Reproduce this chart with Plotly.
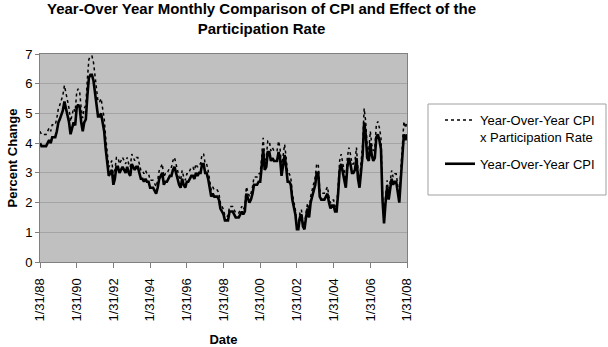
import pandas as pd
import plotly.graph_objects as go

start_date = "1988-01-31"
n_months = 241

cpi = [
    4.0, 3.9, 3.9, 3.9, 3.9, 4.0, 4.1, 4.0, 4.2, 4.2, 4.2, 4.4,
    4.7, 4.8, 5.0, 5.1, 5.4, 5.2, 5.0, 4.7, 4.3, 4.5, 4.7, 4.6,
    5.2, 5.3, 5.2, 4.7, 4.4, 4.7, 4.8, 5.6, 6.2, 6.3, 6.3, 6.1,
    5.7, 5.3, 4.9, 4.9, 5.0, 4.7, 4.4, 3.8, 3.4, 2.9, 3.0, 3.1,
    2.6, 2.8, 3.2, 3.2, 3.0, 3.1, 3.2, 3.1, 3.0, 3.2, 3.0, 2.9,
    3.3, 3.2, 3.1, 3.2, 3.2, 3.0, 2.8, 2.8, 2.7, 2.8, 2.7, 2.7,
    2.5, 2.5, 2.5, 2.4, 2.3, 2.5, 2.8, 2.9, 3.0, 2.6, 2.7, 2.7,
    2.8, 2.9, 2.9, 3.1, 3.2, 3.0, 2.8, 2.6, 2.5, 2.8, 2.6, 2.5,
    2.7, 2.7, 2.8, 2.9, 2.9, 2.8, 3.0, 2.9, 3.0, 3.0, 3.3, 3.3,
    3.0, 3.0, 2.8, 2.5, 2.2, 2.3, 2.2, 2.2, 2.2, 2.1, 1.8, 1.7,
    1.6, 1.4, 1.4, 1.4, 1.7, 1.7, 1.7, 1.6, 1.5, 1.5, 1.5, 1.6,
    1.7, 1.6, 1.7, 2.3, 2.1, 2.0, 2.1, 2.3, 2.6, 2.6, 2.6, 2.7,
    2.7, 3.2, 3.8, 3.1, 3.2, 3.7, 3.7, 3.4, 3.5, 3.4, 3.4, 3.4,
    3.7, 3.5, 2.9, 3.3, 3.6, 3.2, 2.7, 2.7, 2.6, 2.1, 1.9, 1.6,
    1.1, 1.1, 1.5, 1.6, 1.2, 1.1, 1.5, 1.8, 1.5, 2.0, 2.2, 2.4,
    2.6, 3.0, 3.0, 2.2, 2.1, 2.1, 2.1, 2.2, 2.3, 2.0, 1.8, 1.9,
    1.9, 1.7, 1.7, 2.3, 3.1, 3.3, 3.0, 2.7, 2.5, 3.2, 3.5, 3.3,
    3.0, 3.0, 3.1, 3.5, 2.8, 2.5, 3.2, 3.6, 4.7, 4.3, 3.5, 3.4,
    4.0, 3.6, 3.4, 3.5, 4.2, 4.3, 4.1, 3.8, 2.1, 1.3, 2.0, 2.5,
    2.1, 2.4, 2.8, 2.6, 2.7, 2.7, 2.4, 2.0, 2.8, 3.5, 4.3, 4.1,
    4.3,
]

cpi_x_participation = [
    4.40, 4.29, 4.29, 4.29, 4.29, 4.40, 4.51, 4.40, 4.62, 4.62, 4.62, 4.84,
    5.17, 5.28, 5.50, 5.61, 5.94, 5.72, 5.50, 5.17, 4.73, 4.95, 5.17, 5.06,
    5.72, 5.83, 5.72, 5.17, 4.84, 5.17, 5.28, 6.16, 6.82, 6.93, 6.93, 6.71,
    6.27, 5.83, 5.39, 5.39, 5.50, 5.17, 4.84, 4.18, 3.74, 3.19, 3.30, 3.41,
    2.86, 3.08, 3.52, 3.52, 3.30, 3.41, 3.52, 3.41, 3.30, 3.52, 3.30, 3.19,
    3.63, 3.52, 3.41, 3.52, 3.52, 3.30, 3.08, 3.08, 2.97, 3.08, 2.97, 2.97,
    2.75, 2.75, 2.75, 2.64, 2.53, 2.75, 3.08, 3.19, 3.30, 2.86, 2.97, 2.97,
    3.08, 3.19, 3.19, 3.41, 3.52, 3.30, 3.08, 2.86, 2.75, 3.08, 2.86, 2.75,
    2.97, 2.97, 3.08, 3.19, 3.19, 3.08, 3.30, 3.19, 3.30, 3.30, 3.63, 3.63,
    3.30, 3.30, 3.08, 2.75, 2.42, 2.53, 2.42, 2.42, 2.42, 2.31, 1.98, 1.87,
    1.76, 1.54, 1.54, 1.54, 1.87, 1.87, 1.87, 1.76, 1.65, 1.65, 1.65, 1.76,
    1.87, 1.76, 1.87, 2.53, 2.31, 2.20, 2.31, 2.53, 2.86, 2.86, 2.86, 2.97,
    2.97, 3.52, 4.18, 3.41, 3.52, 4.07, 4.07, 3.74, 3.85, 3.74, 3.74, 3.74,
    4.07, 3.85, 3.19, 3.63, 3.96, 3.52, 2.97, 2.97, 2.86, 2.31, 2.09, 1.76,
    1.21, 1.21, 1.65, 1.76, 1.32, 1.21, 1.65, 1.98, 1.65, 2.20, 2.42, 2.64,
    2.86, 3.30, 3.30, 2.42, 2.31, 2.31, 2.31, 2.42, 2.53, 2.20, 1.98, 2.09,
    2.09, 1.87, 1.87, 2.53, 3.41, 3.63, 3.30, 2.97, 2.75, 3.52, 3.85, 3.63,
    3.30, 3.30, 3.41, 3.85, 3.08, 2.75, 3.52, 3.96, 5.17, 4.73, 3.85, 3.74,
    4.40, 3.96, 3.74, 3.85, 4.62, 4.73, 4.51, 4.18, 2.31, 1.43, 2.20, 2.75,
    2.31, 2.64, 3.08, 2.86, 2.97, 2.97, 2.64, 2.20, 3.08, 3.85, 4.73, 4.51,
    4.73,
]

tick_dates = ["1988-01-31", "1990-01-31", "1992-01-31", "1994-01-31", "1996-01-31",
              "1998-01-31", "2000-01-31", "2002-01-31", "2004-01-31", "2006-01-31",
              "2008-01-31"]
tick_labels = ["1/31/88", "1/31/90", "1/31/92", "1/31/94", "1/31/96", "1/31/98",
               "1/31/00", "1/31/02", "1/31/04", "1/31/06", "1/31/08"]

title_text = ("<b>Year-Over Year Monthly Comparison of CPI and Effect of the"
              "<br>Participation Rate</b>")

dates = pd.date_range(start_date, periods=n_months, freq="ME")

FONT = "Liberation Sans, Arial, sans-serif"

fig = go.Figure()
fig.add_trace(go.Scatter(
    x=dates, y=cpi_x_participation, mode="lines",
    name="Year-Over-Year CPI<br>x Participation Rate", legendgroup="a",
    line=dict(color="black", width=1.5, dash="dot"),
))
fig.add_trace(go.Scatter(
    x=dates, y=cpi, mode="lines",
    name="Year-Over-Year CPI", legendgroup="b",
    line=dict(color="black", width=2.6),
))

L, R, T, B = 40, 201, 54, 85
pw = 608 - L - R
ph = 347 - T - B

def px_x(px):
    return (px - L) / pw

def px_y(py):
    return (347 - B - py) / ph

fig.add_shape(type="rect", xref="paper", yref="paper",
              x0=px_x(428), x1=px_x(606), y0=px_y(195), y1=px_y(104),
              line=dict(color="#a0a0a0", width=1), fillcolor="rgba(0,0,0,0)")

fig.add_annotation(
    text=title_text, xref="paper", yref="paper",
    x=px_x(261), y=px_y(-2), xanchor="center", yanchor="top",
    showarrow=False, align="center",
    font=dict(family=FONT, size=15, color="black"),
)

fig.update_layout(
    width=608, height=347,
    margin=dict(l=L, r=R, t=T, b=B, pad=0, autoexpand=False),
    paper_bgcolor="white",
    plot_bgcolor="#c0c0c0",
    font=dict(family=FONT, color="black", size=13),
    showlegend=True,
    legend=dict(
        x=px_x(440), y=px_y(105), xanchor="left", yanchor="top",
        bgcolor="rgba(0,0,0,0)", borderwidth=0, valign="top",
        font=dict(family=FONT, size=13, color="black"),
        tracegroupgap=7,
    ),
    xaxis=dict(
        automargin=False,
        range=[tick_dates[0], tick_dates[-1]],
        tickmode="array", tickvals=tick_dates, ticktext=tick_labels,
        tickangle=-90, ticks="outside", ticklen=5, tickcolor="#808080",
        ticklabelstandoff=5,
        showgrid=False, zeroline=False,
        showline=True, linecolor="#808080", linewidth=1, mirror=True,
        tickfont=dict(family=FONT, size=13),
        title=dict(text="<b>Date</b>", font=dict(family=FONT, size=13), standoff=22),
    ),
    yaxis=dict(
        automargin=False,
        range=[0, 7], dtick=1, tick0=0,
        ticks="outside", ticklen=4, tickcolor="#808080",
        showgrid=True, gridcolor="#a4a4a4", gridwidth=1,
        zeroline=False,
        showline=True, linecolor="#808080", linewidth=1, mirror=True,
        tickfont=dict(family=FONT, size=13),
        title=dict(text="<b>Percent Change</b>", font=dict(family=FONT, size=13), standoff=4),
    ),
)

fig.write_html("out.html")
